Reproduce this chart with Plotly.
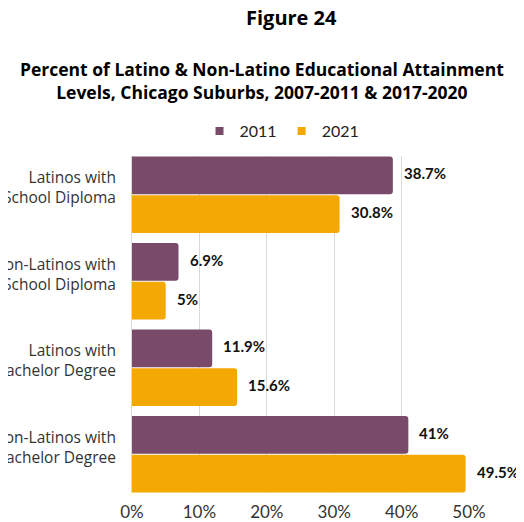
import plotly.graph_objects as go

categories = [
    "Latinos with<br>High School Diploma",
    "Non-Latinos with<br>High School Diploma",
    "Latinos with<br>Bachelor Degree",
    "Non-Latinos with<br>Bachelor Degree",
]
series_names = ["2011", "2021"]
values_2011 = [38.7, 6.9, 11.9, 41]
values_2021 = [30.8, 5, 15.6, 49.5]
x_ticks = [0, 10, 20, 30, 40, 50]
x_tick_labels = ["0%", "10%", "20%", "30%", "40%", "50%"]

colors = ["#794A69", "#F4A804"]
FONT = "Lato"
TFONT = "Open Sans"

# The page body has an 8px default margin; size the figure so it ends at the window edge.
PAGE_W, PAGE_H, OFF = 524, 522, 8
W, H = PAGE_W - OFF, PAGE_H - OFF
PLOT_L, PLOT_R, PLOT_T, PLOT_B = 132, 469, 156, 493   # page pixels
ML, MR, MT, MB = PLOT_L - OFF, PAGE_W - PLOT_R, PLOT_T - OFF, PAGE_H - PLOT_B
plot_w = PLOT_R - PLOT_L
plot_h = PLOT_B - PLOT_T

bargap = 0.104
pos = list(range(len(categories)))

fig = go.Figure()
for name, vals, col in zip(series_names, [values_2011, values_2021], colors):
    fig.add_trace(go.Bar(
        x=vals, y=pos, orientation="h", name=name,
        marker=dict(color=col, line=dict(width=0)),
        showlegend=False, hoverinfo="skip",
    ))
    # legend-only marker trace (small square swatch)
    fig.add_trace(go.Scatter(
        x=[None], y=[None], mode="markers", name=name,
        marker=dict(symbol="square", size=8, color=col),
        showlegend=True,
    ))

half = (1 - bargap) / 4
annotations = []
for k, vals in enumerate([values_2011, values_2021]):
    off = -half if k == 0 else half
    for i, v in enumerate(vals):
        annotations.append(dict(
            x=v, y=i + off, xref="x", yref="y",
            text=f"<b>{v:g}%</b>", showarrow=False,
            xanchor="left", yanchor="middle", xshift=9, yshift=2,
            font=dict(family=FONT, size=15, color="#111111"),
        ))

def px_to_paper_x(px):
    return (px - PLOT_L) / plot_w

def px_to_paper_y(py):
    return (PLOT_B - py) / plot_h

annotations.append(dict(
    x=px_to_paper_x(291), y=px_to_paper_y(17), xref="paper", yref="paper",
    text="<b>Figure 24</b>", showarrow=False, xanchor="center", yanchor="middle",
    font=dict(family=TFONT, size=20, color="#000000"),
))
annotations.append(dict(
    x=px_to_paper_x(262), y=px_to_paper_y(81), xref="paper", yref="paper",
    text="<b>Percent of Latino & Non-Latino Educational Attainment<br>Levels, Chicago Suburbs, 2007-2011 & 2017-2020</b>",
    showarrow=False, xanchor="center", yanchor="middle",
    font=dict(family=TFONT, size=17.5, color="#000000"),
))

fig.update_layout(
    width=W, height=H,
    margin=dict(l=ML, r=MR, t=MT, b=MB, pad=0),
    paper_bgcolor="white", plot_bgcolor="white",
    barmode="group", bargap=bargap, bargroupgap=0.02, barcornerradius=3,
    font=dict(family=FONT, size=15, color="#333333"),
    showlegend=True,
    legend=dict(
        orientation="h", x=px_to_paper_x(282), xanchor="center",
        y=px_to_paper_y(131), yanchor="middle",
        font=dict(family=FONT, size=16, color="#222222"),
        itemwidth=30, tracegroupgap=0, bgcolor="rgba(0,0,0,0)",
    ),
    annotations=annotations,
    xaxis=dict(
        range=[0, 50], tickvals=x_ticks, ticktext=x_tick_labels,
        showgrid=True, gridcolor="#D9D9D9", gridwidth=1,
        zeroline=False, showline=False, ticks="", ticklabelstandoff=7,
        tickfont=dict(family=FONT, size=17, color="#333333"),
        automargin=False, fixedrange=True,
    ),
    yaxis=dict(
        range=[len(categories) - 1 + 0.5 - bargap / 2, -0.5 + bargap / 2],
        tickvals=[p - 0.08 for p in pos], ticktext=categories,
        showgrid=False, zeroline=False,
        showline=True, linecolor="#D9D9D9", linewidth=1,
        ticks="", ticklabelstandoff=12,
        tickfont=dict(family=TFONT, size=15.5, color="#333333"),
        automargin=False, fixedrange=True,
    ),
)

fig.write_html("out.html")
